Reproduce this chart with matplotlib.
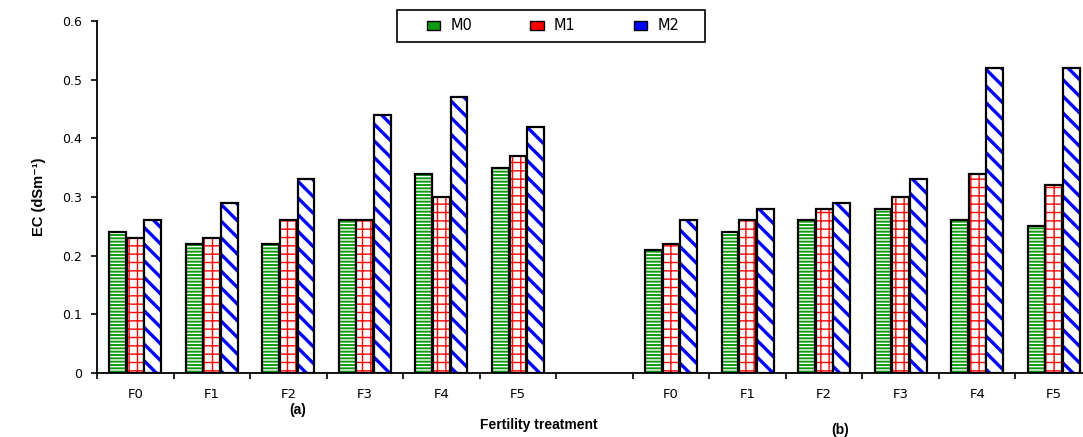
import numpy as np
import matplotlib
matplotlib.use("Agg")
import matplotlib.pyplot as plt
from matplotlib.patches import Patch, Rectangle

plt.rcParams['font.family'] = ['Liberation Sans', 'DejaVu Sans']

categories = ['F0', 'F1', 'F2', 'F3', 'F4', 'F5', '', 'F0', 'F1', 'F2', 'F3', 'F4', 'F5']
series_names = ['M0', 'M1', 'M2']
m0 = [0.24, 0.22, 0.22, 0.26, 0.34, 0.35, np.nan, 0.21, 0.24, 0.26, 0.28, 0.26, 0.25]
m1 = [0.23, 0.23, 0.26, 0.26, 0.30, 0.37, np.nan, 0.22, 0.26, 0.28, 0.30, 0.34, 0.32]
m2 = [0.26, 0.29, 0.33, 0.44, 0.47, 0.42, np.nan, 0.26, 0.28, 0.29, 0.33, 0.52, 0.52]
y_ticks = [0, 0.1, 0.2, 0.3, 0.4, 0.5, 0.6]
y_tick_labels = ['0', '0.1', '0.2', '0.3', '0.4', '0.5', '0.6']

colors = ['#109a10', '#ff0000', '#0000ff']
hatches = ['-----', '++', '\\\\']
hatch_lw = [1.4, 1.0, 2.4]

fig = plt.figure(figsize=(10.83, 4.37), dpi=100)
ax = fig.add_axes([97/1083, 1-373/437, (1092-97)/1083, (373-21)/437])

x = np.arange(len(categories))
width = 0.22
offsets = [-0.23, 0.0, 0.23]
for vals, c, h, lw, off in zip([m0, m1, m2], colors, hatches, hatch_lw, offsets):
    plt.rcParams['hatch.linewidth'] = lw
    bars = ax.bar(x + off, vals, width, facecolor='white', edgecolor=c, hatch=h, linewidth=0)
    for b in bars:
        if hasattr(b, 'set_hatch_linewidth'):
            b.set_hatch_linewidth(lw)
    ax.bar(x + off, vals, width, fill=False, edgecolor='black', linewidth=1.6)

tick_font = ['DejaVu Sans']
ax.set_xlim(-0.5, len(categories) - 0.5)
ax.set_ylim(0, 0.6)
ax.set_yticks(y_ticks)
ax.set_yticklabels(y_tick_labels, fontsize=9, family=tick_font)
ax.set_xticks(x)
ax.set_xticklabels(categories, fontsize=9.5, family=tick_font)
ax.set_xticks(np.arange(-0.5, len(categories), 1), minor=True)
ax.tick_params(axis='x', which='major', length=0, pad=11)
ax.tick_params(axis='x', which='minor', length=4, width=1.2, direction='out')
ax.tick_params(axis='y', length=4, width=1.2, direction='out', pad=7)
for s in ['top', 'right']:
    ax.spines[s].set_visible(False)
ax.spines['left'].set_linewidth(1.3)
ax.spines['bottom'].set_linewidth(1.3)

ax.set_ylabel('EC (dSm\u207b\u00b9)', fontsize=10.5, fontweight='bold', labelpad=11)

fig.text(298/1083, 1-410/437, '(a)', fontsize=10, fontweight='bold', ha='center', va='center')
fig.text(539/1083, 1-425/437, 'Fertility treatment', fontsize=10, fontweight='bold', ha='center', va='center')
fig.text(840/1083, 1-430/437, '(b)', fontsize=10, fontweight='bold', ha='center', va='center')

handles = [Patch(facecolor=c, edgecolor='black', linewidth=1.0) for c in colors]
leg = fig.legend(handles, series_names, loc='center', bbox_to_anchor=(553/1083, 1-26/437), ncol=3,
                 prop={'family': tick_font, 'size': 10.5}, handlelength=0.9, handleheight=0.55,
                 columnspacing=4.0, handletextpad=0.7, frameon=False, borderpad=0, borderaxespad=0)
frame = Rectangle((397/1083, 1-42/437), (705-397)/1083, 32/437, transform=fig.transFigure,
                  fill=False, edgecolor='black', linewidth=1.2)
fig.add_artist(frame)

fig.savefig('out.png', dpi=100)
